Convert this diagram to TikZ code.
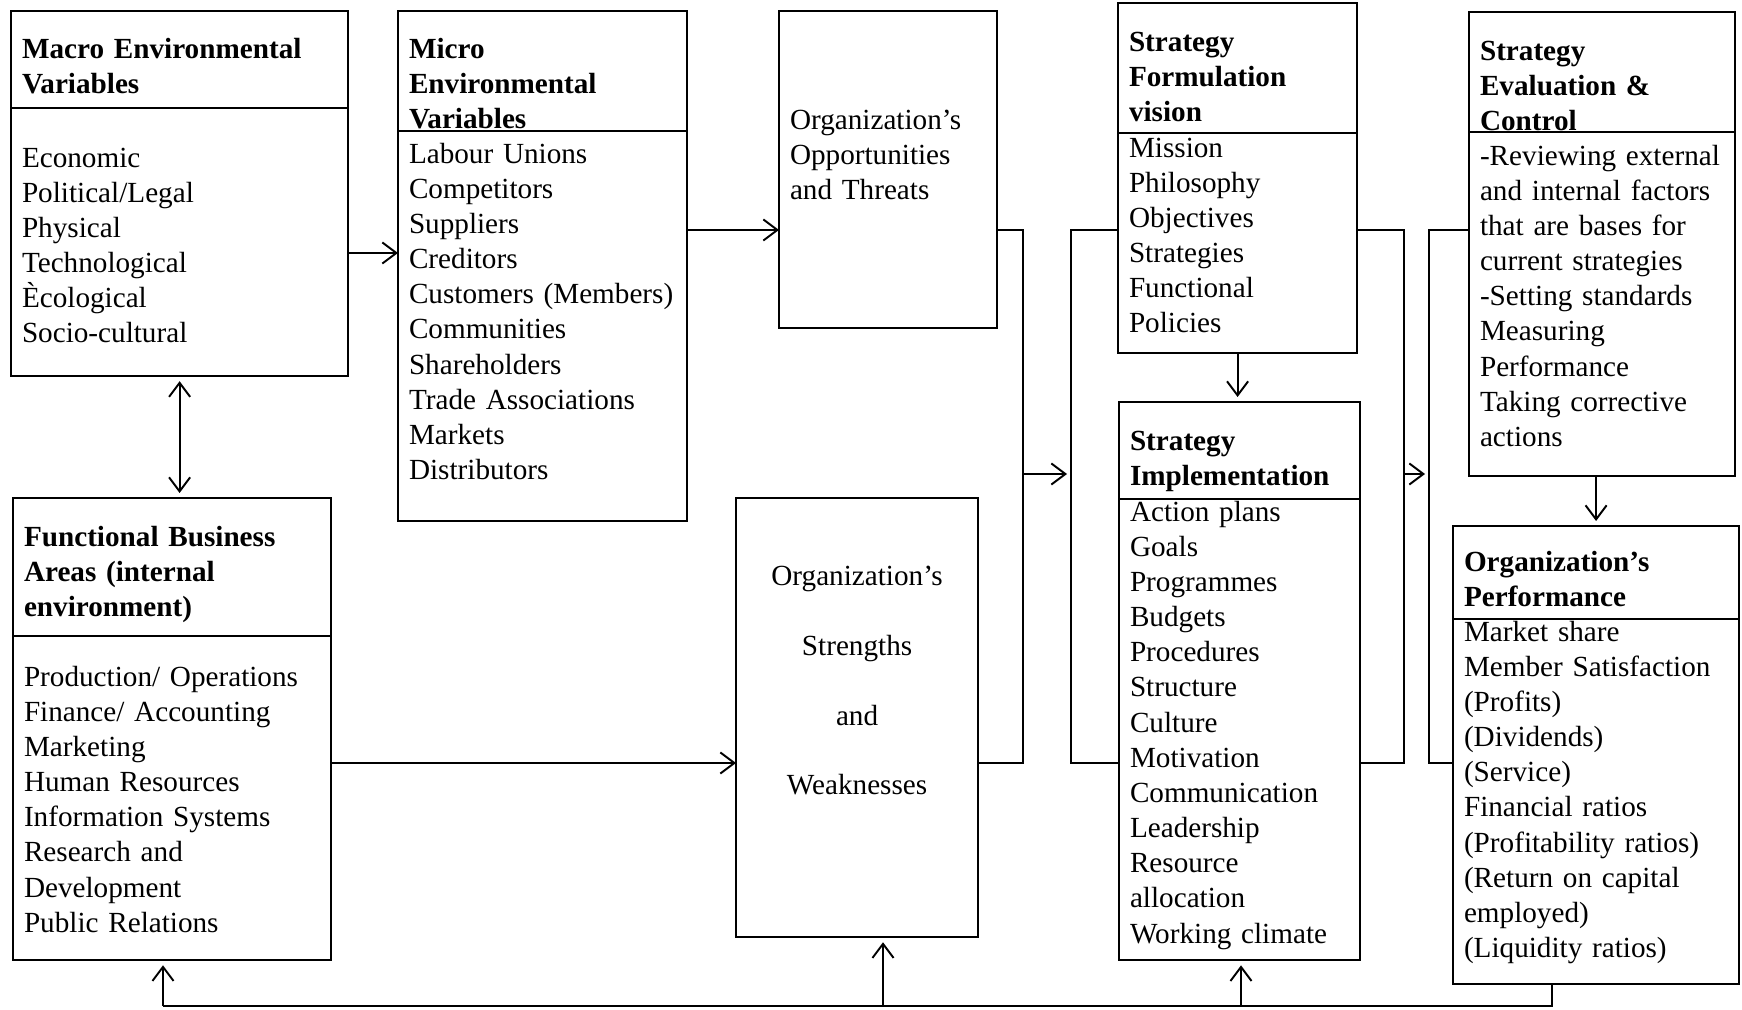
\documentclass[tikz,border=0pt]{standalone}
\usepackage{fontspec}
\setmainfont{Liberation Serif}
\usetikzlibrary{positioning,arrows.meta}

\begin{document}
\begin{tikzpicture}[x=0.01cm, y=-0.01cm, line width=0.55pt,
  >={Straight Barb[length=4pt,width=6pt]},
  font=\fontsize{8.3pt}{10pt}\selectfont,
  box/.style={draw, rectangle, anchor=north west, align=left,
    inner xsep=0.11cm, inner ysep=0pt, outer sep=0pt},
  head/.style={box, font=\fontsize{8.3pt}{10pt}\selectfont\bfseries}]

\useasboundingbox (0,0) rectangle (1742,1010);

% external environment
\node (macrohead) [head, text width=3.15cm, text height=0.47cm, text depth=0.50cm] at (11,11)
{Macro Environmental\\Variables};
\node (macro) [box, below=0pt of macrohead, text width=3.15cm, text height=0.59cm, text depth=2.09cm]
{Economic\\Political/Legal\\Physical\\Technological\\Ècological\\Socio-cultural};

\node (microhead) [head, text width=2.67cm, text height=0.47cm, text depth=0.73cm] at (398,11)
{Micro\\Environmental\\Variables};
\node (micro) [box, below=0pt of microhead, text width=2.67cm, text height=0.32cm, text depth=3.58cm]
{Labour Unions\\Competitors\\Suppliers\\Creditors\\Customers~(Members)\\Communities\\Shareholders\\Trade Associations\\Markets\\Distributors};

\node (opp) [box, text width=1.96cm, text height=1.18cm, text depth=1.99cm] at (779,11)
{Organization's\\Opportunities\\and Threats};

% internal environment
\node (funchead) [head, text width=2.96cm, text height=0.48cm, text depth=0.90cm] at (13,498)
{Functional Business\\Areas (internal\\environment)};
\node (func) [box, below=0pt of funchead, text width=2.96cm, text height=0.50cm, text depth=2.74cm]
{Production/ Operations\\Finance/ Accounting\\Marketing\\Human Resources\\Information Systems\\Research and\\Development\\Public Relations};

\node (str) [box, align=center, text width=2.20cm, text height=0.87cm, text depth=3.52cm,
  font=\fontsize{8.3pt}{19.9pt}\selectfont] at (736,498)
{Organization's\\Strengths\\and\\Weaknesses};

% strategy
\node (formhead) [head, text width=2.17cm, text height=0.48cm, text depth=0.82cm] at (1118,3)
{Strategy\\Formulation\\vision};
\node (form) [box, below=0pt of formhead, text width=2.17cm, text height=0.24cm, text depth=1.96cm]
{Mission\\Philosophy\\Objectives\\Strategies\\Functional\\Policies};

\node (implhead) [head, text width=2.19cm, text height=0.48cm, text depth=0.49cm] at (1119,402)
{Strategy\\Implementation};
\node (impl) [box, below=0pt of implhead, text width=2.19cm, text height=0.22cm, text depth=4.39cm]
{Action plans\\Goals\\Programmes\\Budgets\\Procedures\\Structure\\Culture\\Motivation\\Communication\\Leadership\\Resource\\allocation\\Working climate};

\node (evalhead) [head, text width=2.44cm, text height=0.48cm, text depth=0.72cm] at (1469,12)
{Strategy\\Evaluation \&\\Control};
\node (eval) [box, below=0pt of evalhead, text width=2.44cm, text height=0.33cm, text depth=3.11cm]
{-Reviewing~external\\and internal factors\\that are bases for\\current strategies\\-Setting standards\\Measuring\\Performance\\Taking corrective\\actions};

\node (perfhead) [head, text width=2.64cm, text height=0.45cm, text depth=0.48cm] at (1453,526)
{Organization's\\Performance};
\node (perf) [box, below=0pt of perfhead, text width=2.64cm, text height=0.22cm, text depth=3.43cm]
{Market share\\Member Satisfaction\\(Profits)\\(Dividends)\\(Service)\\Financial ratios\\(Profitability ratios)\\(Return on capital\\employed)\\(Liquidity ratios)};

% links
\coordinate (envlink) at (0,253);
\coordinate (toplink) at (0,230);
\coordinate (lowlink) at (0,763);
\coordinate (midlink) at (0,474);
\coordinate (joinA) at (1023,0);
\coordinate (joinB) at (1071,0);
\coordinate (joinC) at (1404,0);
\coordinate (joinD) at (1429,0);

\draw[->] (macro.east |- envlink) -- (micro.west |- envlink);
\draw[->] (micro.east |- toplink) -- (opp.west |- toplink);
\draw[->] (func.east |- lowlink) -- (str.west |- lowlink);
\draw[<->, shorten <=0.05cm, shorten >=0.05cm] (macro.south) -- (macro.south |- funchead.north);

\draw (opp.east |- toplink) -| (joinA |- lowlink) -- (str.east |- lowlink);
\draw (form.west |- toplink) -| (joinB |- lowlink) -- (impl.west |- lowlink);
\draw (form.east |- toplink) -| (joinC |- lowlink) -- (impl.east |- lowlink);
\draw (eval.west |- toplink) -| (joinD |- lowlink) -- (perf.west |- lowlink);
\draw[->, shorten >=0.04cm] (joinA |- midlink) -- (joinB |- midlink);
\draw[->, shorten >=0.04cm] (joinC |- midlink) -- (joinD |- midlink);

\draw[->, shorten >=0.05cm] (form.south) -- (form.south |- implhead.north);
\draw[->, shorten >=0.05cm] (eval.south -| perfhead.north) -- (perfhead.north);

% feedback
\coordinate (fbl) at (163,1006);
\coordinate (fbm) at (883,1006);
\coordinate (fbi) at (1241,1006);
\coordinate (fbr) at (1552,1006);
\draw (perf.south -| fbr) -- (fbr) -- (fbl);
\foreach \a/\b in {fbl/func, fbm/str, fbi/impl}
  \draw[->, shorten >=0.05cm] (\a) -- (\b.south -| \a);

\end{tikzpicture}
\end{document}
